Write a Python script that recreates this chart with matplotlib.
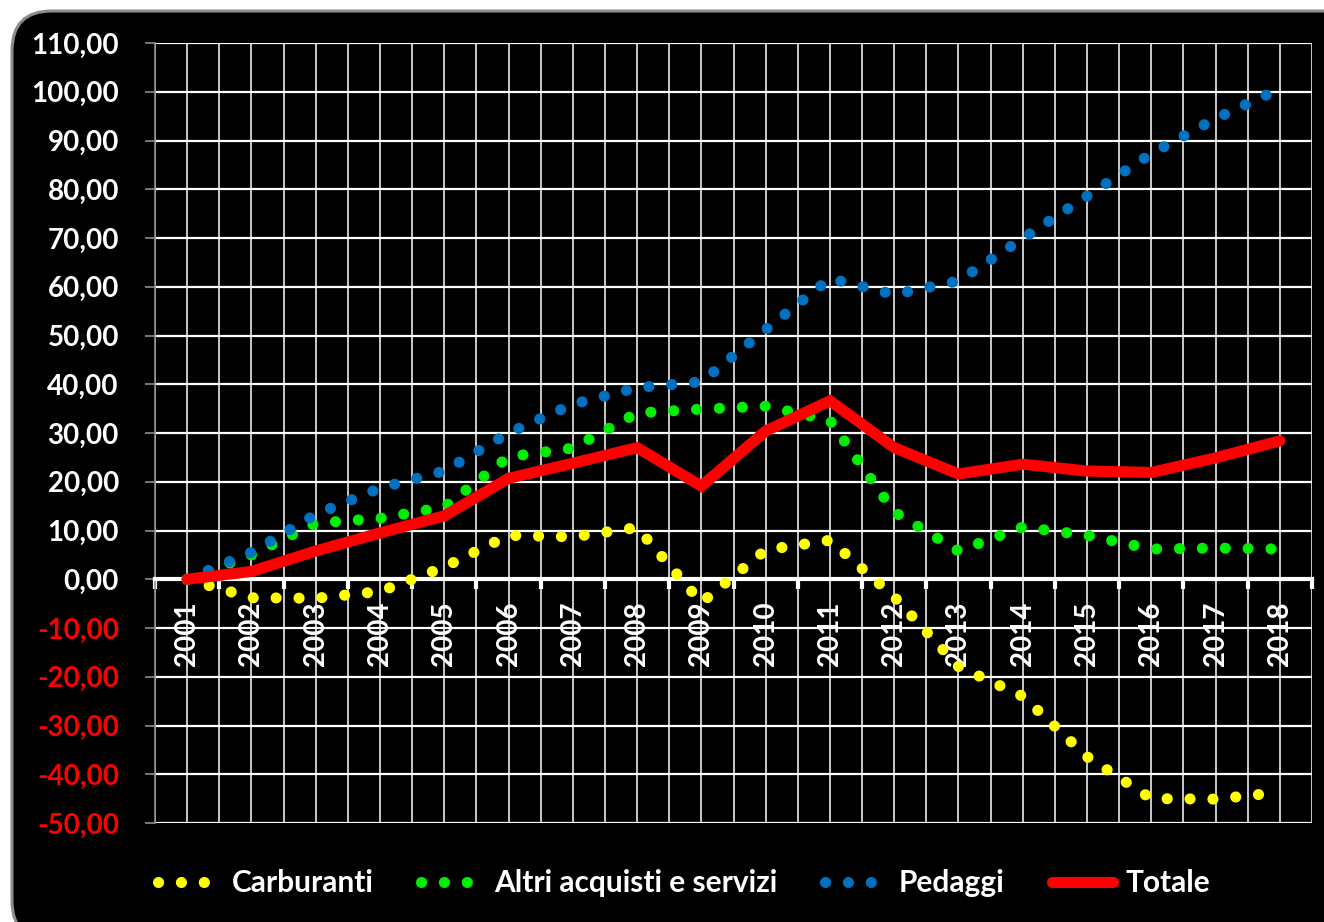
import matplotlib
matplotlib.use("Agg")
import matplotlib.pyplot as plt
from matplotlib.patches import FancyBboxPatch
from matplotlib.ticker import FixedLocator, FuncFormatter

# values (index 2001 = 0)
years = [str(y) for y in range(2001, 2019)]
carburanti = [0.0, -3.8, -3.9, -2.5, 2.5, 9.0, 8.7, 10.6, -4.8, 6.0,
              8.0, -3.6, -17.9, -24.0, -36.4, -45.0, -45.1, -43.7]
altri = [0.0, 5.0, 11.5, 12.5, 14.8, 25.1, 26.9, 34.1, 34.9, 35.5,
         32.6, 13.8, 5.8, 10.7, 9.0, 6.2, 6.4, 6.2]
pedaggi = [0.0, 5.5, 13.3, 18.7, 22.2, 30.0, 35.9, 39.3, 40.5, 51.2,
           61.7, 58.4, 61.2, 69.9, 78.6, 87.3, 94.5, 100.6]
totale = [0.0, 1.6, 5.8, 9.5, 13.0, 20.7, 23.8, 27.0, 19.1, 30.4,
          36.6, 27.0, 21.6, 23.6, 22.2, 21.9, 24.9, 28.4]
y_ticks = list(range(-50, 111, 10))

FONT = "Lato"
plt.rcParams['font.family'] = [FONT, 'DejaVu Sans']

W, H = 1324, 922
fig = plt.figure(figsize=(W / 100, H / 100), dpi=100)
fig.patch.set_facecolor('white')

# black rounded frame behind everything
frame = FancyBboxPatch((12 / W, -0.02), 1.05, 1 - 11 / H + 0.02,
                       boxstyle="round,pad=0,rounding_size=0.03",
                       transform=fig.transFigure, facecolor='black',
                       edgecolor='#8c8c8c', linewidth=2.2, zorder=-10,
                       mutation_aspect=W / H)
fig.patches.append(frame)

ax = fig.add_axes([155 / W, 1 - 823 / H, (1312 - 155) / W, (823 - 43) / H])
ax.set_facecolor('black')

x = list(range(len(years)))
dot = dict(linestyle=(0, (0.01, 2.05)), dash_capstyle='round', lw=8, zorder=4)
ax.plot(x, carburanti, color='#ffff00', label='Carburanti', **dot)
ax.plot(x, altri, color='#00ee00', label='Altri acquisti e servizi', **dot)
ax.plot(x, pedaggi, color='#0070c0', label='Pedaggi', **dot)
ax.plot(x, totale, color='#ff0000', lw=8, solid_capstyle='round',
        solid_joinstyle='miter', label='Totale', zorder=5)

ax.set_xlim(-0.5, len(years) - 0.5)
ax.set_ylim(-50, 110)

# y axis
ax.yaxis.set_major_locator(FixedLocator(y_ticks))
ax.yaxis.set_major_formatter(FuncFormatter(lambda v, p: f"{v:.2f}".replace('.', ',')))
ax.tick_params(axis='y', which='major', direction='out', length=7, width=1.2,
               color='#8c8c8c', pad=19, labelsize=20)
for lab, v in zip(ax.get_yticklabels(), y_ticks):
    lab.set_color('red' if v < 0 else 'white')
    lab.set_fontweight('bold')

# x axis through zero
ax.spines['bottom'].set_position(('data', 0))
ax.spines['bottom'].set_color('white')
ax.spines['bottom'].set_linewidth(3)
ax.spines['bottom'].set_zorder(3)
ax.spines['left'].set_color('#8c8c8c')
ax.spines['left'].set_linewidth(1.2)
ax.spines['top'].set_visible(False)
ax.spines['right'].set_visible(False)

ax.set_xticks(x)
ax.set_xticklabels(years, rotation=90, fontsize=20, fontweight='bold',
                   color='white', va='top')
ax.set_xticks([i - 0.5 for i in range(len(years) + 1)], minor=True)
ax.tick_params(axis='x', which='major', length=0, pad=16)
ax.tick_params(axis='x', which='minor', direction='out', length=7, width=3,
               color='white')

ax.grid(True, axis='y', color='white', lw=1.6, zorder=1)
ax.grid(True, axis='x', which='both', color='white', lw=1.1, zorder=1)
ax.set_axisbelow(True)

leg = fig.legend(loc='center left', bbox_to_anchor=(143 / W, 1 - 883 / H),
                 ncol=4, frameon=False, borderpad=0, handlelength=2.05,
                 handletextpad=0.42, columnspacing=1.58,
                 prop={'family': FONT, 'weight': 'bold', 'size': 21.5})
for t in leg.get_texts():
    t.set_color('white')

fig.savefig('out.png', dpi=100, facecolor='white')
